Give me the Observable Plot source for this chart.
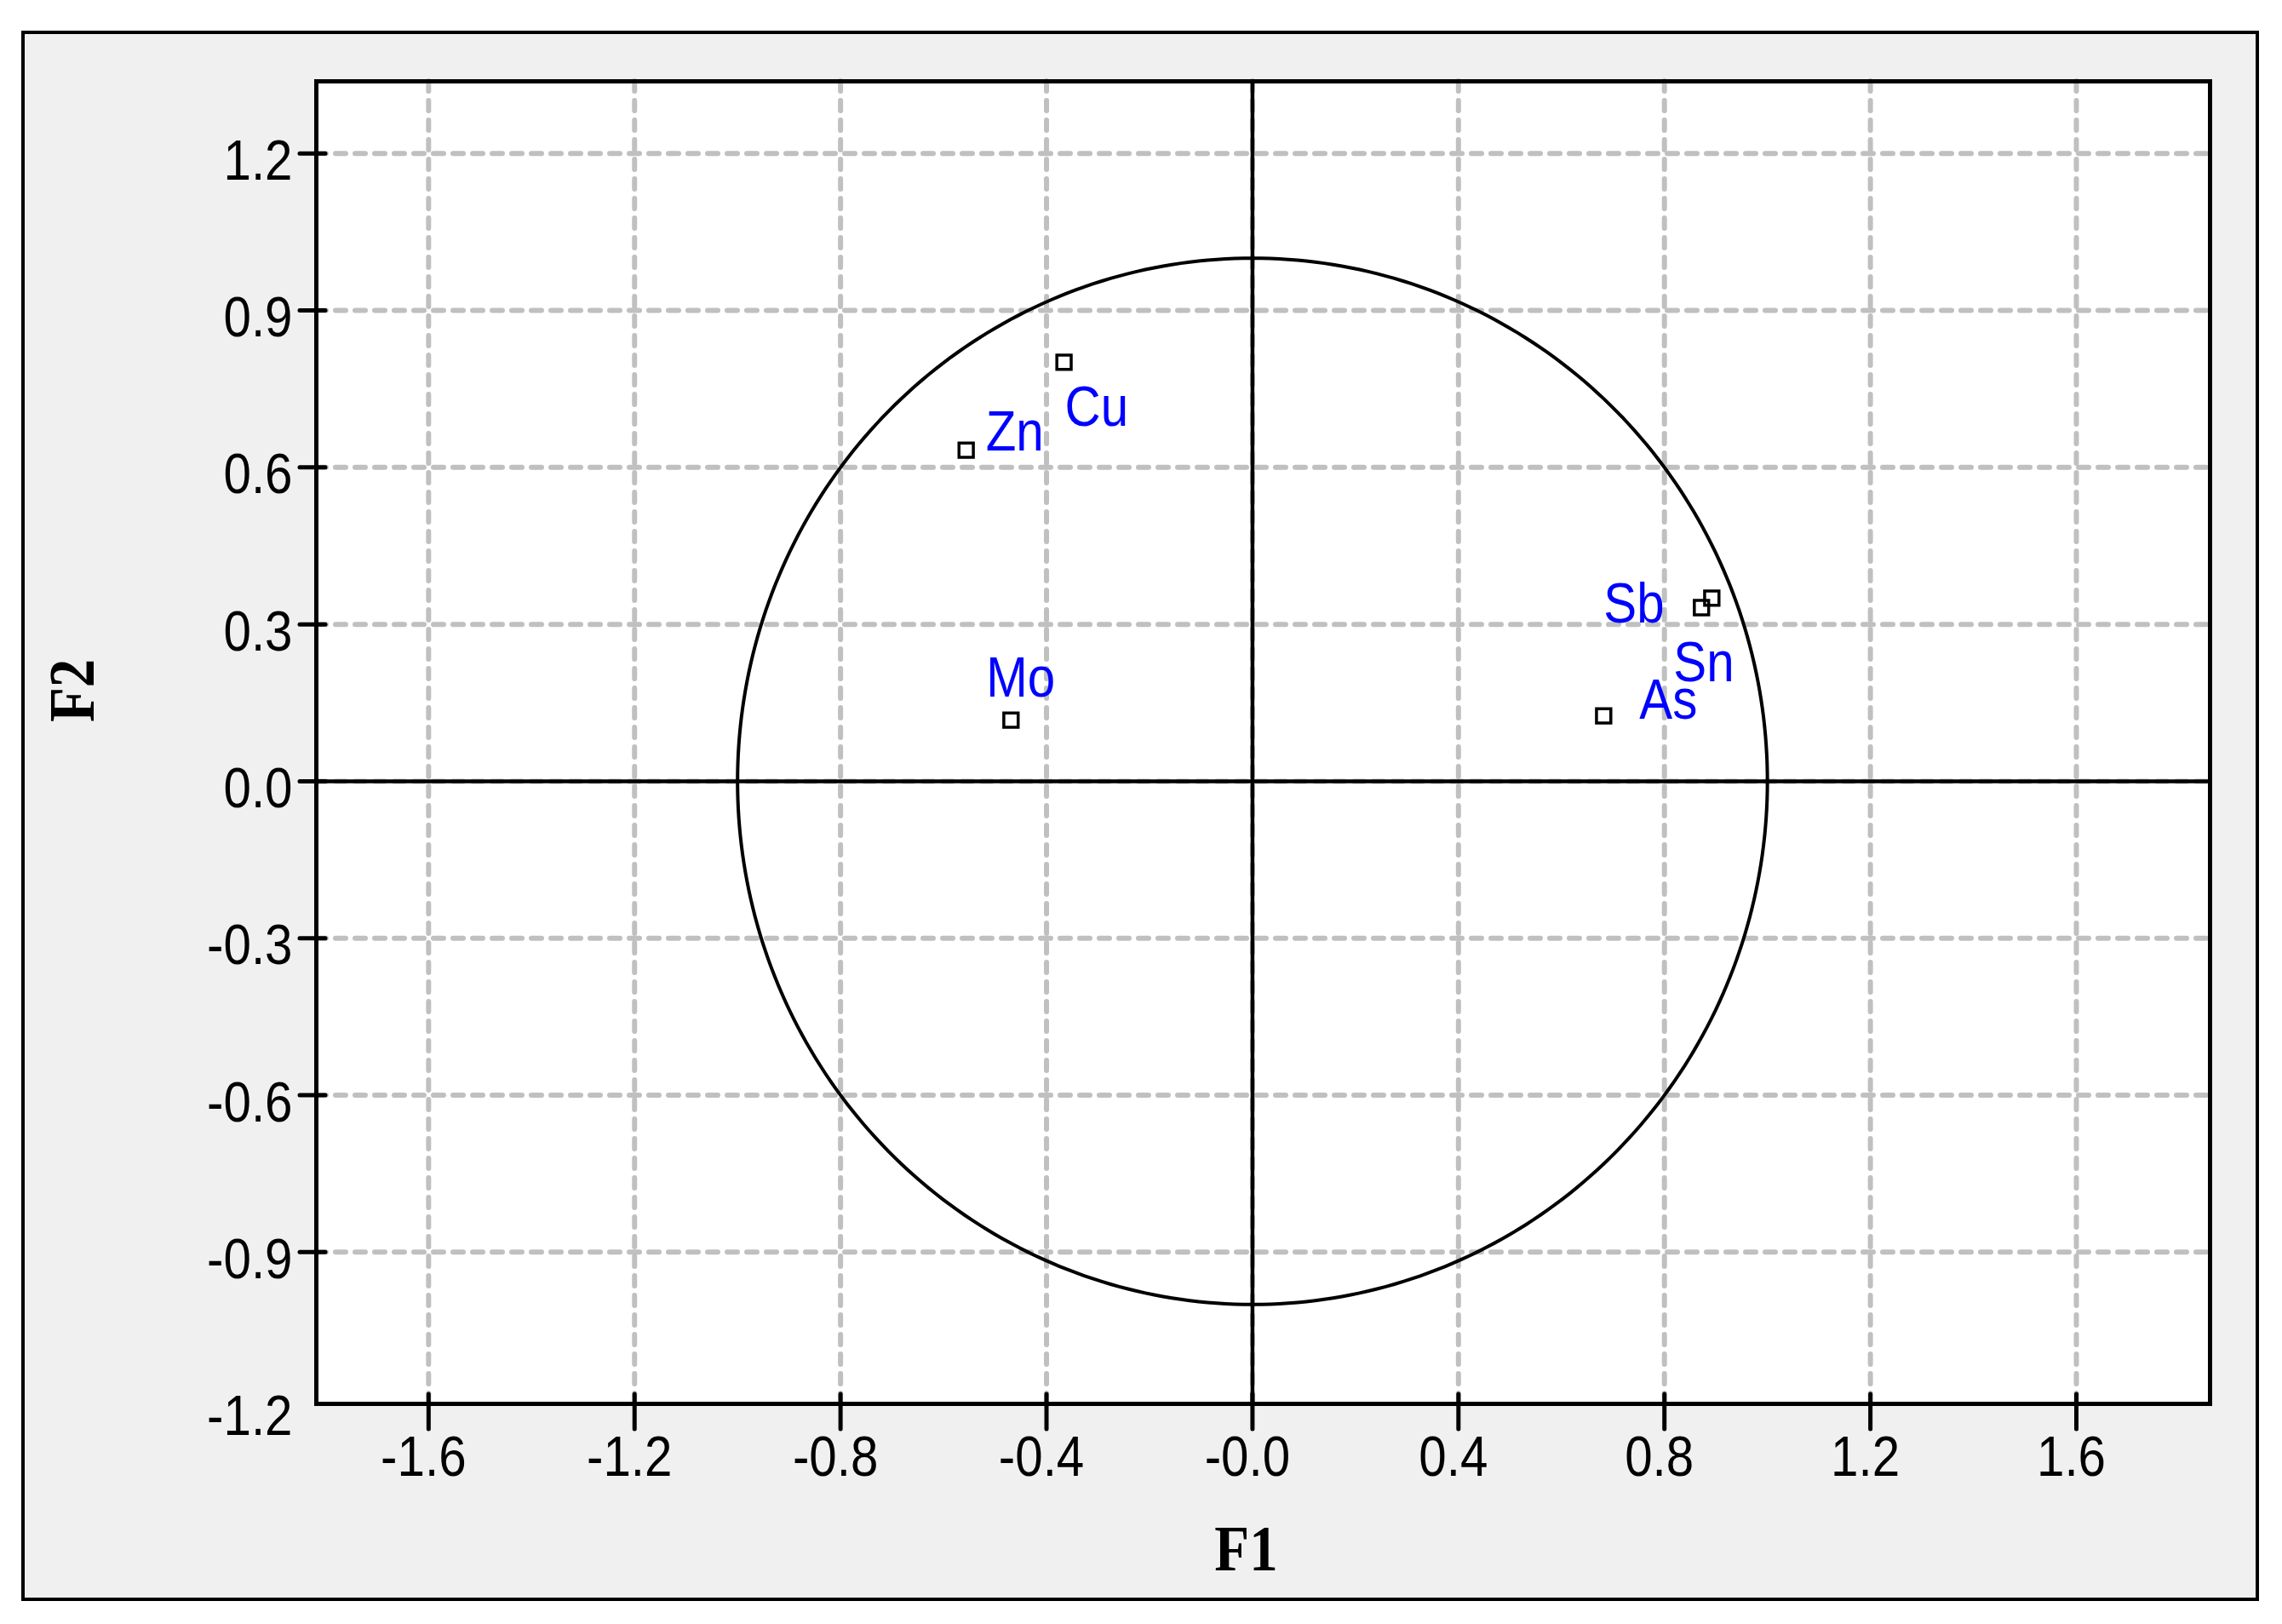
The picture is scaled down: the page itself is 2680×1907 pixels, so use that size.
<!DOCTYPE html>
<html>
<head>
<meta charset="utf-8">
<script src="https://cdn.jsdelivr.net/npm/d3@7"></script>
<script src="https://cdn.jsdelivr.net/npm/@observablehq/plot@0.6"></script>
<style>
  html, body { margin: 0; padding: 0; background: #ffffff; }
  #page { position: relative; width: 2680px; height: 1907px; background: #ffffff; overflow: hidden; }
  #panel { position: absolute; left: 25px; top: 36px; width: 2628px; height: 1844px;
           box-sizing: border-box; border: 4px solid #000; background: #f0f0f0; }
  #chart { position: absolute; left: 0; top: 0; }
  #chart svg { max-width: none !important; }
</style>
</head>
<body>
<div id="page"><div id="panel"></div><div id="chart"></div></div>
<script>
// ---- data ----
const variables = ["Cu", "Zn", "Mo", "Sb", "Sn", "As"];
const f1Values  = [-0.366, -0.556, -0.469, 0.872, 0.892, 0.682];
const f2Values  = [ 0.801,  0.633,  0.117, 0.332, 0.350, 0.125];

const xTicks      = [-1.6, -1.2, -0.8, -0.4, 0, 0.4, 0.8, 1.2, 1.6];
const xTickLabels = ["-1.6", "-1.2", "-0.8", "-0.4", "-0.0", "0.4", "0.8", "1.2", "1.6"];
const yTicks      = [-1.2, -0.9, -0.6, -0.3, 0, 0.3, 0.6, 0.9, 1.2];
const yTickLabels = ["-1.2", "-0.9", "-0.6", "-0.3", "0.0", "0.3", "0.6", "0.9", "1.2"];
const xTitle = "F1";
const yTitle = "F2";
const circleRadius = 1;

// ---- label placement (styling, pixels relative to the point) ----
const labelOffsets = {
  Cu: [1, 75], Zn: [23, 0], Mo: [-29, -28],
  Sb: [-115, 17], Sn: [-45, 98], As: [42, 3]
};

const points = variables.map((v, i) => ({name: v, f1: f1Values[i], f2: f2Values[i]}));
const circle = d3.range(0, 361).map(a => ({
  f1: circleRadius * Math.cos(a * Math.PI / 180),
  f2: circleRadius * Math.sin(a * Math.PI / 180)
}));

const W = 2680, H = 1907;
const mL = 371, mR = 85, mT = 95, mB = 259;
const plotW = W - mL - mR, plotH = H - mT - mB;

const xDomain = [-1.818, 1.8596];
const yDomain = [-1.19, 1.338];
const inY = yTicks.filter(t => t >= yDomain[0] && t <= yDomain[1]);
const inX = xTicks.filter(t => t >= xDomain[0] && t <= xDomain[1]);

const sansFont = "'Liberation Sans', Arial, sans-serif";
const serifFont = "'Liberation Serif', 'Times New Roman', serif";
const tickFont = 67;
const gridStyle = {stroke: "#c0c0c0", strokeOpacity: 1, strokeWidth: 6,
                   strokeDasharray: "12,11", strokeLinecap: "round"};
const tickStyle = {stroke: "black", strokeWidth: 5, strokeLinecap: "round"};

const chart = Plot.plot({
  width: W,
  height: H,
  marginLeft: mL,
  marginRight: mR,
  marginTop: mT,
  marginBottom: mB,
  style: {background: "transparent", fontFamily: sansFont, fontSize: tickFont + "px", overflow: "visible"},
  x: {domain: xDomain, label: null},
  y: {domain: yDomain, label: null},
  marks: [
    Plot.frame({fill: "white", stroke: "none"}),
    Plot.gridX({ticks: inX, ...gridStyle}),
    Plot.gridY({ticks: inY, ...gridStyle}),
    Plot.ruleX([0], {stroke: "black", strokeWidth: 4.5}),
    Plot.ruleY([0], {stroke: "black", strokeWidth: 4.5}),
    Plot.line(circle, {x: "f1", y: "f2", stroke: "black", strokeWidth: 4}),
    Plot.dot(points, {x: "f1", y: "f2", symbol: "square", r: 9.5, stroke: "black", fill: "none", strokeWidth: 3.5}),
    ...points.map(p => Plot.text([p], {
      x: "f1", y: "f2", text: "name",
      dx: labelOffsets[p.name][0], dy: labelOffsets[p.name][1],
      textAnchor: "start", lineAnchor: "bottom",
      fill: "#0000ff", fontSize: tickFont, fontFamily: sansFont
    })),
    Plot.frame({stroke: "black", strokeWidth: 5}),
    // tick marks crossing the frame
    Plot.tickX(inX, {x: d => d, insetTop: plotH - 11, insetBottom: -30, ...tickStyle}),
    Plot.tickY(inY, {y: d => d, insetLeft: -19, insetRight: plotW - 11, ...tickStyle}),
    Plot.axisX({ticks: xTicks, tickSize: 0, tickPadding: 37, dx: -6,
      tickFormat: d => xTickLabels[xTicks.indexOf(d)],
      fontSize: tickFont, fontFamily: sansFont, fill: "black", label: null}),
    Plot.axisY({ticks: yTicks, tickSize: 0, tickPadding: 28, dy: 9,
      tickFormat: d => yTickLabels[yTicks.indexOf(d)],
      fontSize: tickFont, fontFamily: sansFont, fill: "black", label: null}),
    Plot.text([xTitle], {text: d => d, frameAnchor: "bottom", dy: 195, dx: -20,
      lineAnchor: "bottom", fontSize: 76, fontWeight: "bold",
      fontFamily: serifFont, fill: "black"}),
    Plot.text([yTitle], {text: d => d, frameAnchor: "left", dx: -262, dy: -24, rotate: -90,
      lineAnchor: "bottom", fontSize: 76, fontWeight: "bold",
      fontFamily: serifFont, fill: "black"})
  ]
});

// narrow lettering like the original: squeeze each text horizontally about its anchor
const sansTexts = new Set([...variables, ...xTickLabels, ...yTickLabels]);
chart.querySelectorAll("text").forEach(t => {
  const tr = t.getAttribute("transform");
  if (!tr) return;
  const s = t.textContent;
  if (sansTexts.has(s)) t.setAttribute("transform", tr + " scale(0.87,1)");
  else if (s === xTitle || s === yTitle) t.setAttribute("transform", tr + " scale(0.88,1)");
});

document.getElementById("chart").appendChild(chart);
</script>
</body>
</html>
